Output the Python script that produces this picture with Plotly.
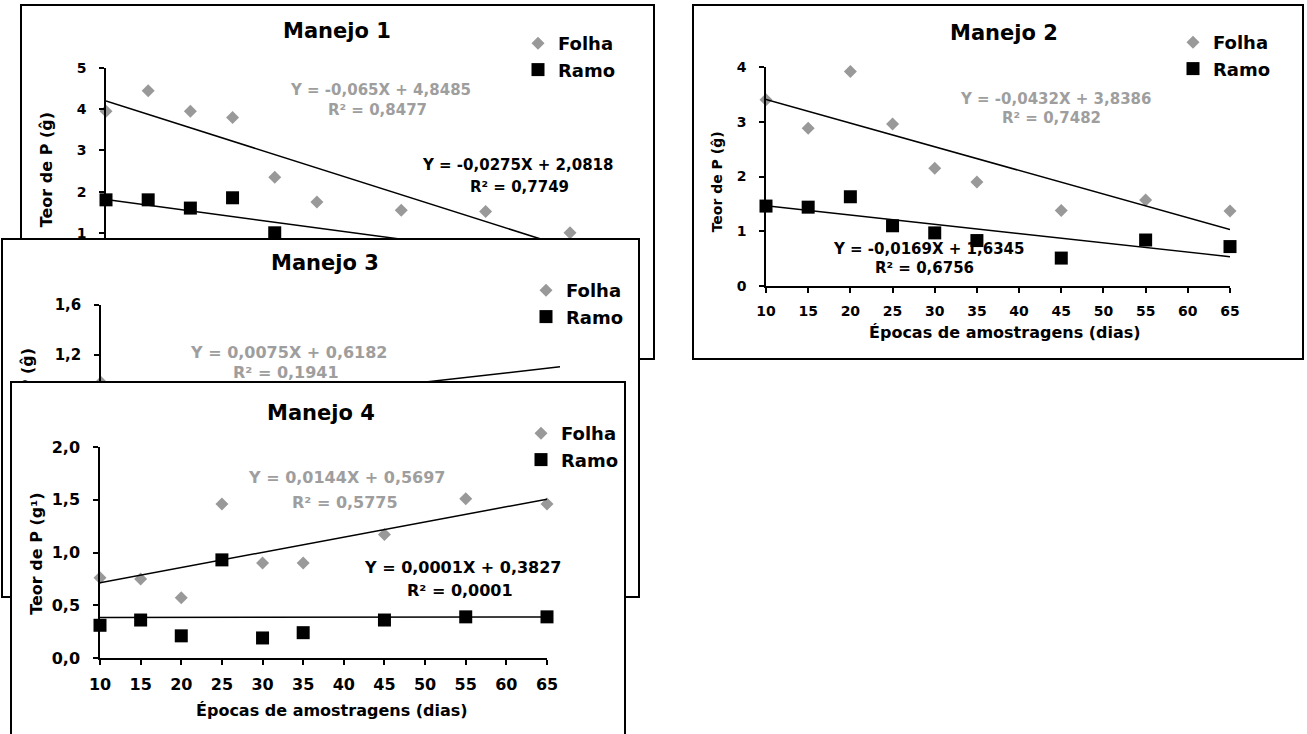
import plotly.graph_objects as go

W, H = 1307, 734

# ---------------- data ----------------
epocas = [10, 15, 20, 25, 30, 35, 45, 55, 65]
eixo_x_ticks = [10, 15, 20, 25, 30, 35, 40, 45, 50, 55, 60, 65]

manejo1_folha = [3.95, 4.45, 3.95, 3.80, 2.35, 1.75, 1.55, 1.52, 1.00]
manejo1_ramo = [1.80, 1.80, 1.60, 1.85, 1.00, 0.62, 0.62, 0.60, 0.60]
manejo2_folha = [3.40, 2.88, 3.92, 2.96, 2.15, 1.90, 1.38, 1.57, 1.37]
manejo2_ramo = [1.46, 1.44, 1.63, 1.10, 0.97, 0.83, 0.51, 0.84, 0.72]
manejo3_folha = [0.98, 0.62, 0.58, 0.78, 0.66, 0.84, 0.88, 0.90, 0.89]
manejo3_ramo = [0.45, 0.50, 0.38, 0.60, 0.42, 0.48, 0.55, 0.52, 0.50]
manejo4_folha = [0.76, 0.75, 0.57, 1.46, 0.90, 0.90, 1.17, 1.51, 1.46]
manejo4_ramo = [0.31, 0.36, 0.21, 0.93, 0.19, 0.24, 0.36, 0.39, 0.39]

# trend equations: slope, intercept, R2
manejo1_eq_folha = [-0.065, 4.8485, 0.8477]
manejo1_eq_ramo = [-0.0275, 2.0818, 0.7749]
manejo2_eq_folha = [-0.0432, 3.8386, 0.7482]
manejo2_eq_ramo = [-0.0169, 1.6345, 0.6756]
manejo3_eq_folha = [0.0075, 0.6182, 0.1941]
manejo4_eq_folha = [0.0144, 0.5697, 0.5775]
manejo4_eq_ramo = [0.0001, 0.3827, 0.0001]

# y ticks and the labels that remain visible (the rest lie under the next panel)
manejo1_yticks = [0, 1, 2, 3, 4, 5]
manejo1_ylabels = ["", "1", "2", "3", "4", "5"]
manejo2_yticks = [0, 1, 2, 3, 4]
manejo2_ylabels = ["0", "1", "2", "3", "4"]
manejo3_yticks = [0, 0.4, 0.8, 1.2, 1.6]
manejo3_ylabels = ["", "", "", "1,2", "1,6"]
manejo4_yticks = [0, 0.5, 1.0, 1.5, 2.0]
manejo4_ylabels = ["0,0", "0,5", "1,0", "1,5", "2,0"]
eixo_x_labels = ["10", "15", "20", "25", "30", "35", "40", "45", "50", "55", "60", "65"]
eixo_x_hidden = [""] * 12

titulos = ["Manejo 1", "Manejo 2", "Manejo 3", "Manejo 4"]
titulo_y = "Teor de P (ĝ)"
titulo_y4 = "Teor de P (g¹)"
titulo_x = "Épocas de amostragens (dias)"
series_nomes = ["Folha", "Ramo"]

# ---------------- styling ----------------
FONT = "DejaVu Sans"
GRAY_M = "#999999"
GRAY_T = "#9e9e9e"


def fx(p):
    return p / W


def fy(p):
    return 1 - p / H


def fmt(v):
    return repr(v).replace(".", ",")


def eq_lines(eq):
    a, b, r2 = eq
    return f"Y = {fmt(a)}X + {fmt(b)}", f"R² = {fmt(r2)}"


def bold(size, color="black"):
    return dict(family=FONT, size=size, color=color, weight="bold")


def ax(n, kind):
    return kind if n == 1 else f"{kind}{n}"


fig = go.Figure()
layout = dict(
    width=W, height=H,
    margin=dict(l=0, r=0, t=0, b=0, pad=0, autoexpand=False),
    paper_bgcolor="white", plot_bgcolor="rgba(0,0,0,0)",
    separators=",.",
    annotations=[], shapes=[],
    hovermode=False,
)

panels = [
    dict(k=1, fid=1, did=2, frame=(22, 6, 653, 358), plot=(106, 68, 570, 274),
         yticks=manejo1_yticks, ylabels=manejo1_ylabels, xlabels=eixo_x_hidden, tsize=14,
         folha=manejo1_folha, ramo=manejo1_ramo,
         eqs=[(manejo1_eq_folha, GRAY_T, (380, 90), (377, 110)),
              (manejo1_eq_ramo, "black", (517, 165), (519, 187))],
         lines=[manejo1_eq_folha, manejo1_eq_ramo],
         title=(337, 31), legend=(558, 43), ytitle=titulo_y, ytc=172, yts=16,
         xtitle=None, eqsize=15, bottom=True),
    dict(k=3, fid=3, did=4, frame=(3, 240, 638, 596), plot=(101, 305, 560, 505),
         yticks=manejo3_yticks, ylabels=manejo3_ylabels, xlabels=eixo_x_hidden, tsize=15,
         folha=manejo3_folha, ramo=manejo3_ramo,
         eqs=[(manejo3_eq_folha, GRAY_T, (289, 352), (286, 372))],
         lines=[manejo3_eq_folha],
         title=(325, 263), legend=(566, 290), ytitle=titulo_y, ytc=408, yts=16,
         xtitle=None, eqsize=16, bottom=True),
    dict(k=4, fid=5, did=6, frame=(12, 383, 624, 734), plot=(100, 447, 547, 658),
         yticks=manejo4_yticks, ylabels=manejo4_ylabels, xlabels=eixo_x_labels, tsize=16,
         folha=manejo4_folha, ramo=manejo4_ramo,
         eqs=[(manejo4_eq_folha, GRAY_T, (347, 478), (345, 502)),
              (manejo4_eq_ramo, "black", (463, 567), (460, 590))],
         lines=[manejo4_eq_folha, manejo4_eq_ramo],
         title=(321, 413), legend=(561, 433), ytitle=titulo_y4, ytc=556, yts=16,
         xtitle=(332, 710), eqsize=16, bottom=False),
    dict(k=2, fid=7, did=8, frame=(694, 6, 1302, 358), plot=(766, 67, 1230, 286),
         yticks=manejo2_yticks, ylabels=manejo2_ylabels, xlabels=eixo_x_labels, tsize=14,
         folha=manejo2_folha, ramo=manejo2_ramo,
         eqs=[(manejo2_eq_folha, GRAY_T, (1055, 99), (1051, 118)),
              (manejo2_eq_ramo, "black", (928, 249), (925, 268))],
         lines=[manejo2_eq_folha, manejo2_eq_ramo],
         title=(1004, 33), legend=(1213, 42), ytitle=titulo_y, ytc=184, yts=14,
         xtitle=(1005, 332), eqsize=15, bottom=True),
]

for p in panels:
    k, fid, did = p["k"], p["fid"], p["did"]
    fl, ft, fr, fb = p["frame"]
    pl, pt, pr, pb = p["plot"]
    ymax = p["yticks"][-1]

    # ---- frame: opaque white box with border, drawn above the earlier panels ----
    fig.add_trace(go.Scatter(x=[None], y=[None], xaxis=ax(fid, "x"), yaxis=ax(fid, "y"),
                             showlegend=False, hoverinfo="skip"))
    layout[ax(fid, "xaxis")] = dict(
        domain=[fx(fl), fx(fr)], range=[0, 1], anchor=ax(fid, "y"),
        showline=True, mirror=p["bottom"], side="bottom" if p["bottom"] else "top",
        linecolor="black", linewidth=2, showticklabels=False, ticks="",
        showgrid=False, zeroline=False, fixedrange=True, automargin=False)
    v = (fb - p["ytc"]) / (fb - ft)
    layout[ax(fid, "yaxis")] = dict(
        domain=[fy(fb), fy(ft)], range=[0, 1], anchor=ax(fid, "x"),
        showline=True, mirror=True, linecolor="black", linewidth=2,
        tickmode="array", tickvals=[v], ticktext=[p["ytitle"]], tickangle=-90,
        ticklabelposition="inside", ticks="", ticklabelstandoff=11,
        tickfont=bold(p["yts"]), showgrid=False, zeroline=False, fixedrange=True,
        automargin=False)
    layout["shapes"].append(dict(type="rect", xref=ax(fid, "x"), yref=ax(fid, "y"),
                                 x0=0, x1=1, y0=0, y1=1, fillcolor="white",
                                 line=dict(width=0), layer="below"))

    # ---- data axes ----
    layout[ax(did, "xaxis")] = dict(
        domain=[fx(pl), fx(pr)], range=[10, 65], anchor=ax(did, "y"),
        tickmode="array", tickvals=eixo_x_ticks, ticktext=p["xlabels"],
        showline=True, linecolor="black", linewidth=1.5,
        ticks="outside", ticklen=5, tickwidth=1.5, tickcolor="black",
        ticklabelstandoff=6, tickfont=bold(p["tsize"]),
        showgrid=False, zeroline=False, fixedrange=True, automargin=False)
    layout[ax(did, "yaxis")] = dict(
        domain=[fy(pb), fy(pt)], range=[0, ymax], anchor=ax(did, "x"),
        tickmode="array", tickvals=p["yticks"], ticktext=p["ylabels"],
        showline=True, linecolor="black", linewidth=1.5,
        ticks="outside", ticklen=5, tickwidth=1.5, tickcolor="black",
        ticklabelstandoff=10, tickfont=bold(p["tsize"]),
        showgrid=False, zeroline=False, fixedrange=True, automargin=False)

    leg = "legend" if k == 1 else f"legend{k}"
    xr, yr = ax(did, "x"), ax(did, "y")

    fig.add_trace(go.Scatter(x=epocas, y=p["folha"], mode="markers", name=series_nomes[0],
                             xaxis=xr, yaxis=yr, legend=leg, cliponaxis=False,
                             marker=dict(symbol="diamond", size=10, color=GRAY_M)))
    fig.add_trace(go.Scatter(x=epocas, y=p["ramo"], mode="markers", name=series_nomes[1],
                             xaxis=xr, yaxis=yr, legend=leg, cliponaxis=False,
                             marker=dict(symbol="square", size=13, color="black")))
    for a, b, _ in p["lines"]:
        xs = [epocas[0], epocas[-1]]
        fig.add_trace(go.Scatter(x=xs, y=[a * x + b for x in xs], mode="lines",
                                 xaxis=xr, yaxis=yr, showlegend=False, hoverinfo="skip",
                                 line=dict(color="black", width=1.5)))

    # legend
    lx, lyc = p["legend"]
    layout[leg] = dict(x=fx(lx - 40), y=fy(lyc - 18), xanchor="left", yanchor="top",
                       bgcolor="rgba(0,0,0,0)", borderwidth=0, font=bold(18),
                       tracegroupgap=0, itemclick=False, itemdoubleclick=False)

    # title
    tx, ty = p["title"]
    layout["annotations"].append(dict(text=titulos[k - 1], x=fx(tx), y=fy(ty), xref="paper",
                                      yref="paper", showarrow=False, xanchor="center",
                                      yanchor="middle", font=bold(21)))
    # equations
    for eq, col, pos1, pos2 in p["eqs"]:
        l1, l2 = eq_lines(eq)
        for txt, (ex, ey) in ((l1, pos1), (l2, pos2)):
            layout["annotations"].append(dict(text=txt, x=fx(ex), y=fy(ey), xref="paper",
                                              yref="paper", showarrow=False, xanchor="center",
                                              yanchor="middle", font=bold(p["eqsize"], col)))
    # x title (only where it is not covered by another panel)
    if p["xtitle"] is not None:
        xtx, xty = p["xtitle"]
        layout["annotations"].append(dict(text=titulo_x, x=fx(xtx), y=fy(xty), xref="paper",
                                          yref="paper", showarrow=False, xanchor="center",
                                          yanchor="middle", font=bold(16)))

fig.update_layout(**layout)
fig.write_html("out.html", config={"displayModeBar": False},
               post_script="document.body.style.margin='0';document.body.style.overflow='hidden';")
